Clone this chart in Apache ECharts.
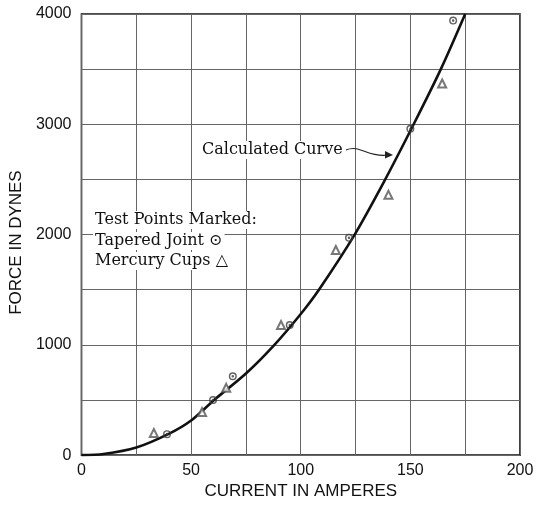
<!DOCTYPE html>
<html>
<head>
<meta charset="utf-8">
<script src="https://cdn.jsdelivr.net/npm/echarts@6/dist/echarts.min.js"></script>
<style>html,body{margin:0;padding:0;background:#fff}#c{width:539px;height:505px}</style>
</head>
<body>
<div id="c"></div>
<script>
// Data
var curveCurrent = [0, 10, 25, 40, 50, 60.5, 75, 88, 100, 108.3, 124.6, 138, 151.5, 163.9, 175];
var curveForce   = [0, 10, 69, 195, 314, 500, 740, 1000, 1280, 1500, 2000, 2480, 3000, 3500, 4000];
var taperedCurrent = [39, 60, 69, 95, 122, 150, 169.5];
var taperedForce   = [190, 500, 715, 1180, 1970, 2960, 3940];
var mercuryCurrent = [33, 55, 66, 91, 116, 140, 164.5];
var mercuryForce   = [200, 390, 610, 1180, 1860, 2360, 3370];
var xTickLabels = [0, 50, 100, 150, 200];
var yTickLabels = [0, 1000, 2000, 3000, 4000];

function pairs(a, b) { return a.map(function (v, i) { return [v, b[i]]; }); }

var ringDot = 'path://M50,0A50,50,0,1,1,49.9,0Z M50,18A32,32,0,1,0,50.1,18Z M50,34A16,16,0,1,1,49.9,34Z';

var chart = echarts.init(document.getElementById('c'), null, {renderer: 'canvas'});
chart.setOption({
  animation: false,
  backgroundColor: '#fff',
  grid: {left: 79, right: 19, top: 14, bottom: 48, show: true, borderColor: '#111', borderWidth: 1.6},
  xAxis: {
    type: 'value', min: 0, max: 200, interval: 25,
    name: 'CURRENT IN AMPERES', nameLocation: 'middle', nameGap: 27,
    nameTextStyle: {fontFamily: 'Liberation Sans', fontSize: 17, color: '#111'},
    axisLine: {show: false}, axisTick: {show: false},
    axisLabel: {
      margin: 7, fontFamily: 'Liberation Sans', fontSize: 16, color: '#111',
      formatter: function (v) { return xTickLabels.indexOf(v) >= 0 ? String(v) : ''; }
    },
    splitLine: {show: true, lineStyle: {color: '#666', width: 1}}
  },
  yAxis: {
    type: 'value', min: 0, max: 4000, interval: 500,
    name: 'FORCE IN DYNES', nameLocation: 'middle', nameGap: 52,
    nameTextStyle: {fontFamily: 'Liberation Sans', fontSize: 17, color: '#111', padding: [0, 16, 0, 0]},
    axisLine: {show: false}, axisTick: {show: false},
    axisLabel: {
      margin: 10, fontFamily: 'Liberation Sans', fontSize: 16, color: '#111',
      formatter: function (v) { return yTickLabels.indexOf(v) >= 0 ? String(v) : ''; }
    },
    splitLine: {show: true, lineStyle: {color: '#666', width: 1}}
  },
  series: [
    {
      name: 'Calculated Curve', type: 'line', smooth: 0.3, showSymbol: false,
      data: pairs(curveCurrent, curveForce), clip: true,
      lineStyle: {color: '#111', width: 2.6}, z: 3
    },
    {
      name: 'Tapered Joint', type: 'scatter', data: pairs(taperedCurrent, taperedForce),
      symbol: ringDot, symbolSize: 8,
      itemStyle: {color: '#3a3a3a'}, z: 4
    },
    {
      name: 'Mercury Cups', type: 'scatter', data: pairs(mercuryCurrent, mercuryForce),
      symbol: 'emptyTriangle', symbolSize: 8,
      itemStyle: {color: '#555', borderColor: '#555', borderWidth: 1.4}, z: 4
    }
  ],
  graphic: [
    {type: 'text', left: 200, top: 141, z: 10,
     style: {text: 'Calculated Curve', font: '16px "DejaVu Serif"', fill: '#111', backgroundColor: '#fff', padding: [1, 2]}},
    {type: 'bezierCurve', z: 10,
     shape: {x1: 346, y1: 150, x2: 388, y2: 155, cpx1: 360, cpy1: 144, cpx2: 368, cpy2: 158},
     style: {stroke: '#222', lineWidth: 1.1, fill: null}},
    {type: 'polygon', z: 10,
     shape: {points: [[393, 155], [385, 151], [385, 158.5]]},
     style: {fill: '#222'}},
    {type: 'text', left: 93, top: 211, z: 10,
     style: {text: 'Test Points Marked:', font: '16px "DejaVu Serif"', fill: '#111', backgroundColor: '#fff', padding: [1, 2]}},
    {type: 'text', left: 93, top: 232, z: 10,
     style: {text: 'Tapered Joint \u2299', font: '16px "DejaVu Serif"', fill: '#111', backgroundColor: '#fff', padding: [1, 2]}},
    {type: 'text', left: 93, top: 252, z: 10,
     style: {text: 'Mercury Cups \u25B3', font: '16px "DejaVu Serif"', fill: '#111', backgroundColor: '#fff', padding: [1, 2]}}
  ]
});
</script>
</body>
</html>
